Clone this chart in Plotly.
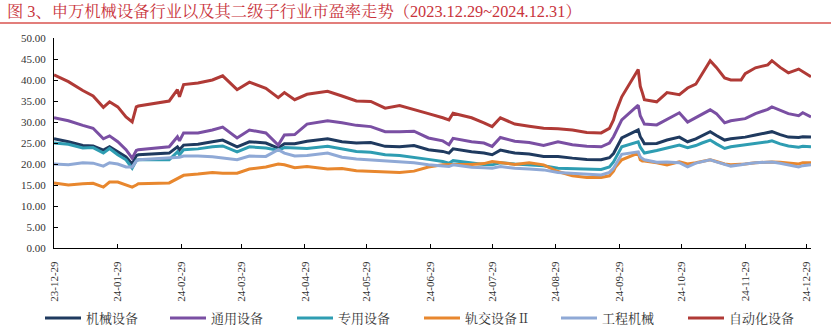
import plotly.graph_objects as go

# Trading-day samples of the PE (TTM) series
dates = [
    "2023-12-29", "2024-01-05", "2024-01-12", "2024-01-17", "2024-01-22", "2024-01-25",
    "2024-01-29", "2024-02-02", "2024-02-05", "2024-02-07", "2024-02-08", "2024-02-23",
    "2024-02-27", "2024-02-28", "2024-03-01", "2024-03-08", "2024-03-15", "2024-03-20",
    "2024-03-27", "2024-04-02", "2024-04-10", "2024-04-16", "2024-04-19", "2024-04-24",
    "2024-04-30", "2024-05-10", "2024-05-17", "2024-05-24", "2024-05-31", "2024-06-07",
    "2024-06-14", "2024-06-21", "2024-06-28", "2024-07-05", "2024-07-08", "2024-07-10",
    "2024-07-19", "2024-07-25", "2024-07-29", "2024-08-02", "2024-08-09", "2024-08-16",
    "2024-08-23", "2024-08-30", "2024-09-06", "2024-09-13", "2024-09-20", "2024-09-24",
    "2024-09-26", "2024-09-27", "2024-09-30", "2024-10-08", "2024-10-09", "2024-10-10",
    "2024-10-11", "2024-10-17", "2024-10-22", "2024-10-28", "2024-11-01", "2024-11-05",
    "2024-11-08", "2024-11-12", "2024-11-15", "2024-11-19", "2024-11-22", "2024-11-27",
    "2024-11-29", "2024-12-04", "2024-12-10", "2024-12-12", "2024-12-16", "2024-12-20",
    "2024-12-25", "2024-12-27", "2024-12-31",
]

jixie_shebei = [
    26.0, 25.3, 24.4, 24.3, 23.3, 24.1, 22.9, 21.7, 20.0, 22.0, 22.2, 22.6,
    24.1, 23.4, 24.5, 24.7, 25.3, 25.7, 24.1, 25.3, 25.0, 23.8, 24.8, 24.8,
    25.4, 26.0, 25.3, 25.0, 25.1, 24.2, 24.1, 24.4, 23.4, 23.0, 22.6, 23.6,
    22.9, 22.6, 22.2, 23.3, 22.6, 22.4, 21.8, 21.8, 21.4, 21.1, 21.0, 21.5,
    22.5, 23.4, 26.2, 28.1, 26.5, 25.7, 24.8, 24.9, 25.7, 26.4, 25.3, 26.0,
    26.8, 27.7, 26.8, 25.7, 26.0, 26.2, 26.4, 26.9, 27.4, 27.7, 27.0, 26.4,
    26.3, 26.5, 26.4,
]

tongyong_shebei = [
    31.0, 30.3, 29.2, 28.5, 26.0, 26.7, 25.3, 23.4, 21.4, 23.2, 23.4, 24.1,
    26.5, 25.5, 27.4, 27.4, 28.1, 28.8, 26.2, 28.1, 27.4, 24.5, 26.9, 27.0,
    29.5, 30.3, 29.8, 29.2, 28.9, 27.7, 27.7, 27.8, 26.2, 25.5, 24.6, 26.1,
    25.3, 25.0, 24.2, 26.3, 25.4, 25.1, 24.4, 25.3, 24.6, 24.2, 24.1, 25.0,
    26.5, 27.5, 30.5, 34.0, 31.5, 30.5, 29.5, 29.3, 30.7, 32.2, 30.0, 31.0,
    31.8, 32.9, 32.0, 29.8, 30.3, 30.7, 30.8, 32.0, 33.0, 33.6, 32.8, 32.0,
    31.5, 32.2, 31.2,
]

zhuanyong_shebei = [
    25.0, 24.7, 23.8, 23.9, 22.6, 23.7, 22.2, 21.0, 19.0, 20.8, 21.0, 21.0,
    22.9, 22.2, 23.4, 23.6, 24.1, 24.3, 22.9, 24.1, 23.8, 23.3, 23.9, 23.8,
    23.7, 24.2, 23.6, 23.0, 22.8, 22.2, 22.0, 21.6, 21.1, 20.6, 20.2, 20.8,
    20.2, 19.9, 19.8, 20.3, 20.0, 19.8, 19.6, 19.0, 18.9, 18.7, 18.7, 19.3,
    20.5, 21.4, 24.1, 25.3, 24.0, 23.3, 22.6, 23.2, 23.8, 24.5, 23.9, 24.4,
    25.0, 25.7, 24.8, 23.7, 24.1, 24.4, 24.6, 24.8, 25.3, 25.5, 24.8, 24.3,
    24.0, 24.2, 24.1,
]

guijiao_shebei = [
    15.5, 15.0, 15.3, 15.4, 14.5, 15.7, 15.7, 15.0, 14.5, 15.0, 15.3, 15.5,
    16.5, 16.7, 17.3, 17.6, 18.0, 17.8, 17.8, 18.8, 19.3, 20.0, 19.8, 19.1,
    19.4, 18.8, 18.9, 18.4, 18.3, 18.1, 18.0, 18.3, 19.3, 19.8, 19.9, 19.9,
    19.9, 20.1, 20.6, 20.3, 19.9, 20.3, 19.8, 18.2, 17.2, 16.8, 16.8, 17.2,
    18.3, 19.3, 21.0, 22.6, 21.0, 20.7, 20.7, 20.3, 19.8, 20.5, 20.0, 20.3,
    20.6, 21.0, 20.6, 20.0, 19.8, 19.9, 20.0, 20.3, 20.5, 20.5, 20.4, 20.2,
    20.0, 20.3, 20.3,
]

gongcheng_jixie = [
    20.0, 19.8, 20.3, 20.2, 19.5, 20.3, 20.0, 19.3, 19.3, 20.7, 21.0, 21.4,
    21.6, 21.6, 21.9, 21.9, 21.7, 21.4, 21.0, 21.9, 21.8, 23.4, 22.6, 21.9,
    22.0, 22.6, 21.6, 21.2, 21.0, 20.7, 20.5, 20.3, 19.8, 19.6, 19.4, 19.8,
    19.2, 19.1, 19.0, 19.4, 19.0, 18.8, 18.6, 18.0, 17.8, 17.5, 17.4, 18.0,
    19.0, 19.8, 22.3, 22.9, 21.7, 21.3, 21.0, 20.4, 20.5, 20.3, 19.3, 20.2,
    20.5, 21.0, 20.5, 20.0, 19.5, 19.8, 20.0, 20.3, 20.5, 20.5, 20.2, 19.8,
    19.3, 19.6, 19.8,
]

zidonghua_shebei = [
    41.2, 39.6, 37.5, 36.2, 33.5, 34.8, 33.6, 31.2, 30.0, 33.6, 33.8, 35.0,
    37.7, 36.0, 38.9, 39.3, 40.0, 41.0, 37.7, 39.5, 38.0, 35.8, 37.0, 35.3,
    36.6, 37.3, 36.2, 35.0, 34.9, 33.3, 33.9, 33.0, 32.0, 31.0, 30.5, 32.1,
    31.0, 29.8, 28.9, 31.0, 29.5, 29.0, 28.5, 28.4, 28.1, 27.5, 27.4, 28.5,
    30.5, 32.2, 36.0, 42.5, 38.5, 37.0, 35.3, 34.8, 37.0, 36.5, 38.1, 39.0,
    41.5, 44.6, 43.0, 40.5, 40.0, 40.0, 41.5, 42.9, 43.6, 44.6, 43.0, 41.7,
    42.6, 42.0, 40.8,
]

series_names = ["机械设备", "通用设备", "专用设备", "轨交设备Ⅱ", "工程机械", "自动化设备"]
series_values = [jixie_shebei, tongyong_shebei, zhuanyong_shebei,
                 guijiao_shebei, gongcheng_jixie, zidonghua_shebei]
series_colors = ["#1F3A5F", "#7A4FA3", "#2E9DB2", "#E8872E", "#8FA9D6", "#B03A36"]

tick_dates = [
    "2023-12-29", "2024-01-29", "2024-02-29", "2024-03-29", "2024-04-29", "2024-05-29",
    "2024-06-29", "2024-07-29", "2024-08-29", "2024-09-29", "2024-10-29", "2024-11-29",
    "2024-12-29",
]
tick_labels = [
    "23-12-29", "24-01-29", "24-02-29", "24-03-29", "24-04-29", "24-05-29",
    "24-06-29", "24-07-29", "24-08-29", "24-09-29", "24-10-29", "24-11-29",
    "24-12-29",
]

title_text = "图 3、申万机械设备行业以及其二级子行业市盈率走势（2023.12.29~2024.12.31）"

FONT = "Liberation Serif, Noto Serif CJK SC, Noto Sans CJK SC, serif"

W, H = 831, 332
L, R, T, B = 54, 20, 38, 84
pw, ph = W - L - R, H - T - B


def px_x(p):
    return (p - L) / pw


def px_y(p):
    return (H - B - p) / ph


# left edge (in pixels) of each legend key, one legend box per series
legend_left = [46, 171, 298, 425, 562, 689]

fig = go.Figure()
legend_layouts = {}
for i, (name, values, color) in enumerate(zip(series_names, series_values, series_colors)):
    key = "legend" if i == 0 else f"legend{i + 1}"
    fig.add_trace(go.Scatter(
        x=dates, y=values, name=name, mode="lines",
        line=dict(color=color, width=3),
        legend=key,
    ))
    legend_layouts[key] = dict(
        orientation="h", x=px_x(legend_left[i] - 6), y=px_y(318),
        xanchor="left", yanchor="middle",
        font=dict(family=FONT, size=13, color="#333333"),
        itemwidth=36, bgcolor="rgba(0,0,0,0)",
    )

fig.update_layout(
    width=W, height=H,
    margin=dict(l=L, r=R, t=T, b=B, autoexpand=False),
    paper_bgcolor="white", plot_bgcolor="white",
    font=dict(family=FONT, color="#333333"),
    showlegend=True,
    annotations=[dict(
        text=title_text, xref="paper", yref="paper",
        x=px_x(5), y=px_y(11), xanchor="left", yanchor="middle",
        showarrow=False,
        font=dict(family=FONT, size=16.3, color="#C9343C"),
    )],
    shapes=[dict(
        type="line", xref="paper", yref="paper",
        x0=px_x(0), x1=px_x(W), y0=px_y(23), y1=px_y(23),
        line=dict(color="#D9534F", width=1.5),
    )],
    **legend_layouts,
)

fig.update_xaxes(
    type="date", range=["2023-12-29", "2024-12-31"],
    tickvals=tick_dates, ticktext=tick_labels, tickangle=-90,
    ticks="inside", ticklen=4, tickcolor="#000000",
    ticklabelstandoff=8, automargin=False,
    showline=True, linecolor="#000000", linewidth=1,
    showgrid=False, zeroline=False,
    tickfont=dict(family=FONT, size=11, color="#333333"),
)
fig.update_yaxes(
    range=[0, 50], dtick=5, tickformat=".2f",
    ticks="inside", ticklen=4, tickcolor="#000000",
    ticklabelstandoff=5, automargin=False,
    showline=True, linecolor="#000000", linewidth=1,
    showgrid=False, zeroline=False,
    tickfont=dict(family=FONT, size=11, color="#333333"),
)

fig.write_html("out.html")
